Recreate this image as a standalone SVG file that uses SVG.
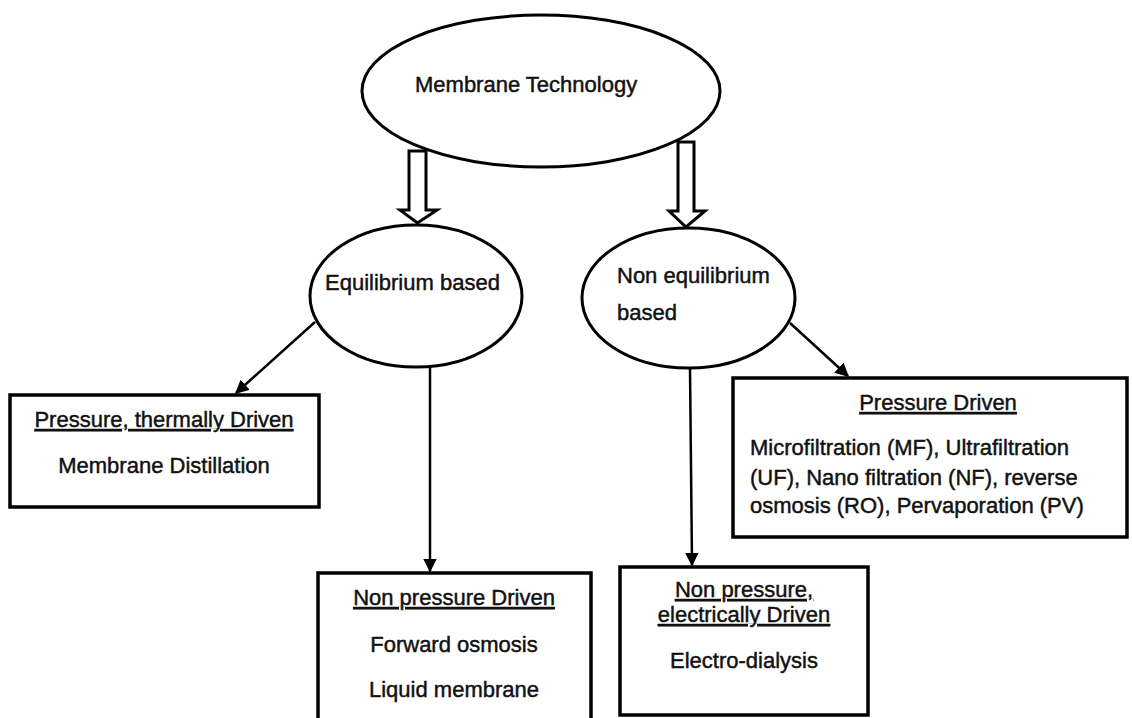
<svg xmlns="http://www.w3.org/2000/svg" width="1132" height="718" viewBox="0 0 1132 718">
<style>
.sh{fill:#fff;stroke:#000;stroke-width:3}
.bx{fill:#fff;stroke:#000;stroke-width:3.5}
.t{font-family:"Liberation Sans",Arial,sans-serif;font-size:22px;fill:#111;stroke:#111;stroke-width:0.45}
.c{text-anchor:middle}
.u{text-decoration:underline}
.ln{stroke:#000;stroke-width:2.5;fill:none;marker-end:url(#ah)}
</style>
<defs>
<marker id="ah" viewBox="0 0 10 10" refX="9" refY="5" markerWidth="5.5" markerHeight="5.5" orient="auto" markerUnits="strokeWidth">
<path d="M0,0 L10,5 L0,10 z" fill="#000"/>
</marker>
</defs>
<rect width="1132" height="718" fill="#fff"/>
<g id="membrane-technology">
<ellipse class="sh" cx="541" cy="91" rx="179" ry="76"/>
<text class="t" x="415" y="92">Membrane Technology</text>
</g>
<g id="equilibrium">
<ellipse class="sh" cx="416" cy="296" rx="106" ry="71"/>
<text class="t" x="325" y="290">Equilibrium based</text>
</g>
<g id="non-equilibrium">
<ellipse class="sh" cx="688.5" cy="298" rx="106.5" ry="70"/>
<text class="t" x="617" y="283">Non equilibrium</text>
<text class="t" x="617" y="320">based</text>
</g>
<g id="connectors">
<polygon class="sh" points="409,151 426,151 426,210 437,210 417.5,223 400,210 409,210"/>
<polygon class="sh" points="678,142 694,142 694,211 705,211 686,227 669,211 678,211"/>
<line class="ln" x1="315" y1="322" x2="236" y2="393"/>
<line class="ln" x1="430" y1="367" x2="430" y2="571"/>
<line class="ln" x1="690" y1="368" x2="692" y2="565"/>
<line class="ln" x1="790" y1="323" x2="848" y2="376"/>
</g>
<g id="pressure-thermally">
<rect class="bx" x="10" y="395" width="309" height="112"/>
<text class="t c u" x="164" y="427">Pressure, thermally Driven</text>
<text class="t c" x="164" y="473">Membrane Distillation</text>
</g>
<g id="pressure-driven">
<rect class="bx" x="733" y="378" width="394" height="159"/>
<text class="t c u" x="938" y="410">Pressure Driven</text>
<text class="t" x="750" y="455">Microfiltration (MF), Ultrafiltration</text>
<text class="t" x="750" y="485">(UF), Nano filtration (NF), reverse</text>
<text class="t" x="750" y="513">osmosis (RO), Pervaporation (PV)</text>
</g>
<g id="non-pressure">
<rect class="bx" x="318" y="573" width="273" height="160"/>
<text class="t c u" x="454" y="605">Non pressure Driven</text>
<text class="t c" x="454" y="652">Forward osmosis</text>
<text class="t c" x="454" y="697">Liquid membrane</text>
</g>
<g id="non-pressure-electrical">
<rect class="bx" x="620" y="567" width="248" height="148"/>
<text class="t c u" x="744" y="597">Non pressure,</text>
<text class="t c u" x="744" y="622">electrically Driven</text>
<text class="t c" x="744" y="668">Electro-dialysis</text>
</g>
</svg>
